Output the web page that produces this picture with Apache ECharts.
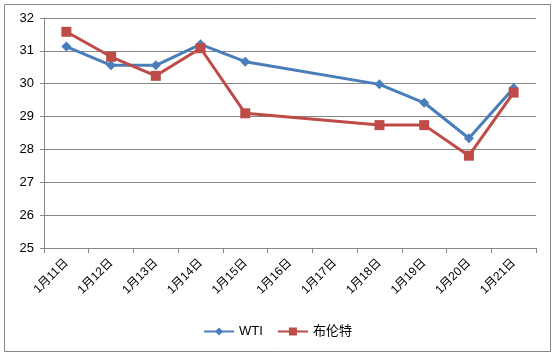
<!DOCTYPE html>
<html><head><meta charset="utf-8">
<script src="https://cdn.jsdelivr.net/npm/echarts@6/dist/echarts.min.js"></script>
<style>html,body{margin:0;padding:0;background:#fff}#c{width:555px;height:357px}</style>
</head><body><div id="c"></div>
<script>
var categories = ['1月11日','1月12日','1月13日','1月14日','1月15日','1月16日','1月17日','1月18日','1月19日','1月20日','1月21日'];
var wti = [31.13, 30.56, 30.56, 31.20, 30.67, null, null, 29.98, 29.42, 28.34, 29.87];
var brent = [31.58, 30.82, 30.24, 31.08, 29.10, null, null, 28.74, 28.74, 27.81, 29.73];
var yTicks = {min: 25, max: 32, interval: 1};
var FONT = '"Liberation Sans", "Noto Sans CJK SC", sans-serif';
var chart = echarts.init(document.getElementById('c'), null, {renderer: 'canvas'});
chart.setOption({
  animation: false,
  backgroundColor: '#fff',
  graphic: [{type: 'rect', shape: {x: 4.5, y: 4.5, width: 546, height: 347}, style: {fill: 'none', stroke: '#868686', lineWidth: 1}, silent: true}],
  grid: {left: 44, right: 19, top: 18, bottom: 109, containLabel: false},
  legend: {
    top: 320, left: 'center', itemWidth: 30, itemHeight: 10, itemGap: 14,
    textStyle: {fontFamily: FONT, fontSize: 13, color: '#000'},
    data: ['WTI', '布伦特']
  },
  xAxis: {
    type: 'category', data: categories, boundaryGap: true,
    axisLine: {lineStyle: {color: '#868686', width: 1}},
    axisTick: {show: true, length: 5, interval: 0, lineStyle: {color: '#868686'}},
    axisLabel: {rotate: 45, interval: 0, fontFamily: FONT, fontSize: 12, color: '#000', margin: 13},
    splitLine: {show: false}
  },
  yAxis: {
    type: 'value', min: yTicks.min, max: yTicks.max, interval: yTicks.interval,
    axisLine: {show: true, lineStyle: {color: '#868686', width: 1}},
    axisTick: {show: true, length: 4, lineStyle: {color: '#868686'}},
    axisLabel: {fontFamily: FONT, fontSize: 13, color: '#000', margin: 10},
    splitLine: {show: true, lineStyle: {color: '#868686', width: 1}}
  },
  series: [
    {name: 'WTI', type: 'line', data: wti, connectNulls: true, symbol: 'diamond', symbolSize: 10,
     itemStyle: {color: '#4A7EBB'}, lineStyle: {color: '#4A7EBB', width: 3}},
    {name: '布伦特', type: 'line', data: brent, connectNulls: true, symbol: 'rect', symbolSize: 10,
     itemStyle: {color: '#BE4B48'}, lineStyle: {color: '#BE4B48', width: 3}}
  ]
});
</script></body></html>
